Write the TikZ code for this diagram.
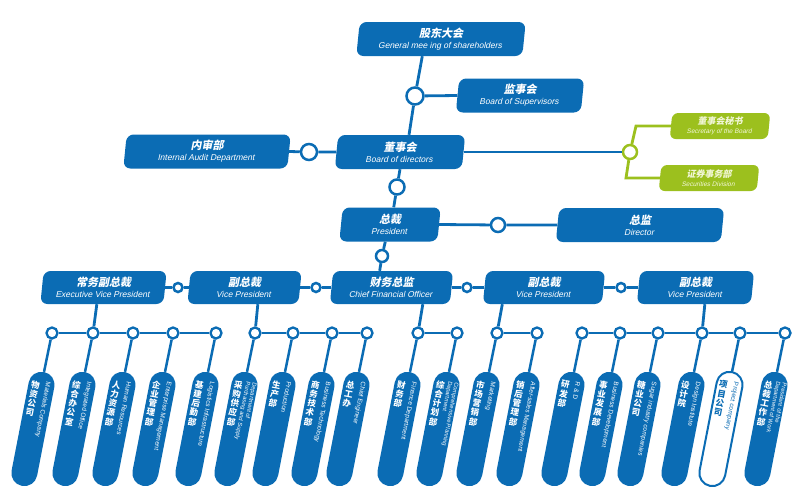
\documentclass[tikz,border=0pt]{standalone}
\usepackage{fontspec}
\usetikzlibrary{calc}
\newfontfamily\cjk[FakeSlant=0.1]{Noto Sans CJK SC}
\newfontfamily\cjku{Noto Sans CJK SC}
\newfontfamily\lat[FakeSlant=0.12]{Liberation Sans}
\newfontfamily\latu{Liberation Sans}
\definecolor{bl}{HTML}{0B6CB4}
\definecolor{gr}{HTML}{9CC01E}
\definecolor{gt}{HTML}{F2F7D8}
\newcommand\bt[2]{{\cjk\bfseries\fontsize{11}{11}\selectfont #1}\\{\lat\fontsize{8.5}{11}\selectfont #2}}
\newcommand\gbt[2]{{\cjk\bfseries\fontsize{9}{9}\selectfont #1}\\{\lat\fontsize{6.5}{9}\selectfont #2}}
\newcommand\pil[7]{%
  \begin{scope}[shift={(#2-8,372)},rotate=-11,transform shape]
    \node[#3] (p#1) at (0,58) {};
    \node[pcn,text=#4,anchor=north] (p#1c) at (-6,10) {#5};
    \node[pen,text=#4,#7] (p#1e) at (6,9) {#6};
  \end{scope}
  \draw[sln] (b#1) -- (p#1.north);}
\begin{document}
\begin{tikzpicture}[x=1pt,y=-1pt,
  orgbox/.style={fill=bl,text=white,rounded corners=7pt,minimum height=34pt,inner sep=0pt,align=center,xslant=0.1,font=\fontsize{8.5}{11}\selectfont},
  grbox/.style={orgbox,fill=gr,text=gt,minimum height=26pt,rounded corners=6pt,font=\fontsize{6.5}{9}\selectfont},
  ln/.style={draw=bl,line width=2.8pt},
  sln/.style={draw=bl,line width=2.5pt},
  gln/.style={draw=gr,line width=2.8pt},
  cdot/.style={circle,draw=bl,fill=white,line width=2.5pt,inner sep=0pt},
  gdot/.style={cdot,draw=gr},
  pillb/.style={fill=bl,rounded corners=13pt,minimum width=26pt,minimum height=116pt,inner sep=0pt},
  pillw/.style={pillb,fill=white,draw=bl,line width=2pt},
  pcn/.style={inner sep=0pt,align=center,font=\cjku\bfseries\fontsize{8.5}{9.4}\selectfont},
  pen/.style={inner sep=0pt,rotate=-90,anchor=west,align=left,font=\latu\fontsize{6.5}{7.5}\selectfont},
  twoline/.style={font=\latu\fontsize{5.8}{6.4}\selectfont}]
\useasboundingbox (0,0) rectangle (800,491);

% top boxes
\node[orgbox,minimum width=166pt] (gm) at (441,39) {\bt{股东大会}{General mee ing of shareholders}};
\node[orgbox,minimum width=125pt] (sup) at (520,95.5) {\bt{监事会}{Board of Supervisors}};
\node[orgbox,minimum width=127pt] (bod) at (400,152) {\bt{董事会}{Board of directors}};
\node[orgbox,minimum width=164pt] (aud) at (207,151.5) {\bt{内审部}{Internal Audit Department}};
\node[grbox,minimum width=98pt] (sec) at (720,126) {\gbt{董事会秘书}{Secretary of the Board}};
\node[grbox,minimum width=98pt] (secd) at (709,178) {\gbt{证券事务部}{Securities Division}};
\node[orgbox,minimum width=98pt] (pres) at (390,224.5) {\bt{总裁}{President}};
\node[orgbox,minimum width=165pt] (dir) at (640,225) {\bt{总监}{Director}};
% VP row
\node[orgbox,minimum width=123pt,minimum height=33pt] (evp) at (103.5,287.5) {\bt{常务副总裁}{Executive Vice President}};
\node[orgbox,minimum width=111pt,minimum height=33pt] (vp1) at (244.5,287.5) {\bt{副总裁}{Vice President}};
\node[orgbox,minimum width=120pt,minimum height=33pt] (cfo) at (391.5,287.5) {\bt{财务总监}{Chief Financial Officer}};
\node[orgbox,minimum width=119pt,minimum height=33pt] (vp2) at (544,287.5) {\bt{副总裁}{Vice President}};
\node[orgbox,minimum width=114pt,minimum height=33pt] (vp3) at (695.5,287.5) {\bt{副总裁}{Vice President}};

% circles
\node[cdot,minimum size=17pt] (c1) at (415,96) {};
\node[cdot,minimum size=16pt] (c2) at (309,152) {};
\node[gdot,minimum size=14pt] (c3) at (630,152) {};
\node[cdot,minimum size=15pt] (c4) at (397,187) {};
\node[cdot,minimum size=14pt] (c5) at (498,225) {};
\node[cdot,minimum size=12pt] (c6) at (382,256) {};
\foreach \n/\x in {v1/178,v2/316,v3/467,v4/621}
  \node[cdot,minimum size=9pt] (\n) at (\x,287.5) {};
\foreach \i/\x in {1/52,2/93,3/133,4/173,5/216,6/255,7/293,8/332,9/367,10/418,11/457,12/497,13/537,14/582,15/620,16/658,17/702,18/740,19/785}
  \node[cdot,minimum size=11pt,line width=2.3pt] (b\i) at (\x,333) {};

\coordinate (g1) at (636,126);
\coordinate (g2) at (626,178);

% connectors
\draw[ln] ($(gm.south)+(-17,0)$) -- (c1) -- ($(bod.north)+(7.3,0)$);
\draw[ln] (c1) -- (sup.west);
\draw[ln] (aud.east) -- (c2) -- (bod.west);
\draw[ln] (bod.east) -- (c3);
\draw[gln] (c3) -- (g1) -- (sec.west);
\draw[gln] (c3) -- (g2) -- (secd.west);
\draw[ln] ($(bod.south)+(1.7,0)$) -- (c4) -- ($(pres.north)+(2,0)$);
\draw[ln] (pres.east) -- (c5) -- (dir.west);
\draw[ln] ($(pres.south)+(-3,0)$) -- (c6) -- ($(cfo.north)+(-13.5,0)$);
\draw[ln] (evp.east) -- (v1) -- (vp1.west);
\draw[ln] (vp1.east) -- (v2) -- (cfo.west);
\draw[ln] (cfo.east) -- (v3) -- (vp2.west);
\draw[ln] (vp2.east) -- (v4) -- (vp3.west);
\draw[ln] ($(evp.south)+(-5,0)$) -- (b2);
\draw[ln] ($(vp1.south)+(15,0)$) -- (b6);
\draw[ln] ($(cfo.south)+(33,0)$) -- (b10);
\draw[ln] ($(vp2.south)+(-40,0)$) -- (b12);
\draw[ln] ($(vp3.south)+(11,0)$) -- (b17);
\draw[sln] (b1) -- (b2) -- (b3) -- (b4) -- (b5);
\draw[sln] (b6) -- (b7) -- (b8) -- (b9);
\draw[sln] (b10) -- (b11);
\draw[sln] (b12) -- (b13);
\draw[sln] (b14) -- (b15) -- (b16) -- (b17) -- (b18) -- (b19);

% pills
\pil{1}{52}{pillb}{white}{物\\资\\公\\司}{Materials Company}{}
\pil{2}{93}{pillb}{white}{综\\合\\办\\公\\室}{Integrated Office}{}
\pil{3}{133}{pillb}{white}{人\\力\\资\\源\\部}{Human Resources}{}
\pil{4}{173}{pillb}{white}{企\\业\\管\\理\\部}{Enterprise Management}{}
\pil{5}{216}{pillb}{white}{基\\建\\后\\勤\\部}{Logistics Infrastructure}{}
\pil{6}{255}{pillb}{white}{采\\购\\供\\应\\部}{Department of\\Purchasing and Supply}{twoline}
\pil{7}{293}{pillb}{white}{生\\产\\部}{Production}{}
\pil{8}{332}{pillb}{white}{商\\务\\技\\术\\部}{Business Technology}{}
\pil{9}{367}{pillb}{white}{总\\工\\办}{Chief Engineer}{}
\pil{10}{418}{pillb}{white}{财\\务\\部}{Finance Department}{}
\pil{11}{457}{pillb}{white}{综\\合\\计\\划\\部}{Comprehensive Planning\\Department}{twoline}
\pil{12}{497}{pillb}{white}{市\\场\\营\\销\\部}{Marketing}{}
\pil{13}{537}{pillb}{white}{销\\后\\管\\理\\部}{After-sales Management}{}
\pil{14}{582}{pillb}{white}{研\\发\\部}{R \& D}{}
\pil{15}{620}{pillb}{white}{事\\业\\发\\展\\部}{Business Development}{}
\pil{16}{658}{pillb}{white}{糖\\业\\公\\司}{Sugar industry companies}{}
\pil{17}{702}{pillb}{white}{设\\计\\院}{Design Institute}{}
\pil{18}{740}{pillw}{bl}{项\\目\\公\\司}{Project company}{}
\pil{19}{785}{pillb}{white}{总\\裁\\工\\作\\部}{President of the\\Department of Work}{twoline}
\end{tikzpicture}
\end{document}
